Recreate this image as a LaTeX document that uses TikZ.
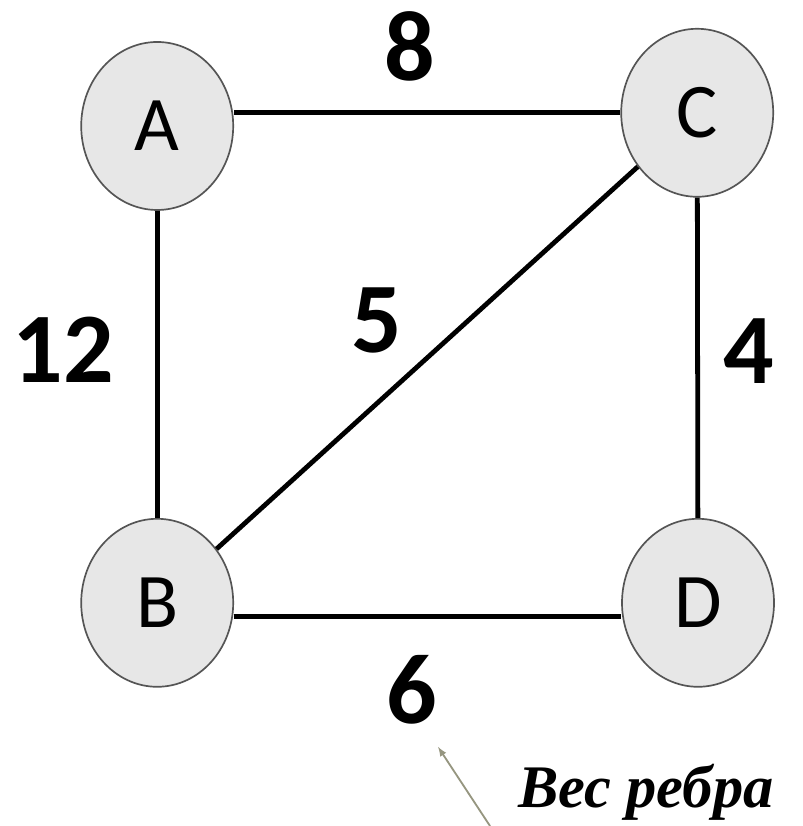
\documentclass[tikz,border=0pt]{standalone}
\usepackage{fontspec}
\usepackage{tikz}
\usetikzlibrary{arrows,shapes.geometric}
\newfontfamily\digfont{Carlito}
\newfontfamily\capfont{Liberation Serif}
\definecolor{ptrcol}{RGB}{150,150,128}
\definecolor{vtxline}{RGB}{85,85,85}

\begin{document}
\begin{tikzpicture}
% Node styles ---
\tikzstyle{vtx} = [ellipse, minimum width = 3.8cm, minimum height = 4.2cm, inner sep = 0pt, line width = 1.2pt, draw = vtxline, fill = gray!19, font = \digfont\fontsize{55}{55}\selectfont]
\tikzstyle{wgt} = [inner sep = 0pt, font = \digfont\bfseries\fontsize{71}{71}\selectfont]
\tikzstyle{note} = [inner sep = 0pt, anchor = base west, font = \capfont\bfseries\itshape\fontsize{43}{43}\selectfont]
\tikzstyle{lnk} = [draw = black, line width = 3.4pt]
\tikzstyle{ptr} = [-latex, draw = ptrcol, line width = 1.3pt]
% Begin Figure ---
\useasboundingbox (0,0) rectangle (20.05,20.65);
% Nodes
\node at (+3.93,+17.50) [vtx] (A) {A};
\node at (+17.43,+17.83) [vtx] (C) {C};
\node at (+3.93,+5.58) [vtx] (B) {B};
\node at (+17.45,+5.58) [vtx] (D) {D};
% Weights
\node at (+10.25,+19.50) [wgt] (w8) {8};
\node at (+1.58,+11.90) [wgt] (w12) {12};
\node at (+9.43,+12.65) [wgt] (w5) {5};
\node at (+18.73,+11.88) [wgt] (w4) {4};
\node at (+10.30,+3.40) [wgt] (w6) {6};
\node at (+12.95,+0.45) [note] (lbl) {Вес ребра};
% Paths
\path (C.west) edge [lnk] (C.west -| A.east);
\path (A) edge [lnk] (B);
\path (B) edge [lnk] (C);
\path (C) edge [lnk] (D);
\path ([yshift=-0.35cm]B.east) edge [lnk] ([yshift=-0.35cm]D.west);
% pointer
\coordinate (pbot) at (+12.25,+0.00);
\coordinate (ptop) at (+10.95,+1.98);
\path (pbot) edge [ptr] (ptop);
\end{tikzpicture}
\end{document}
